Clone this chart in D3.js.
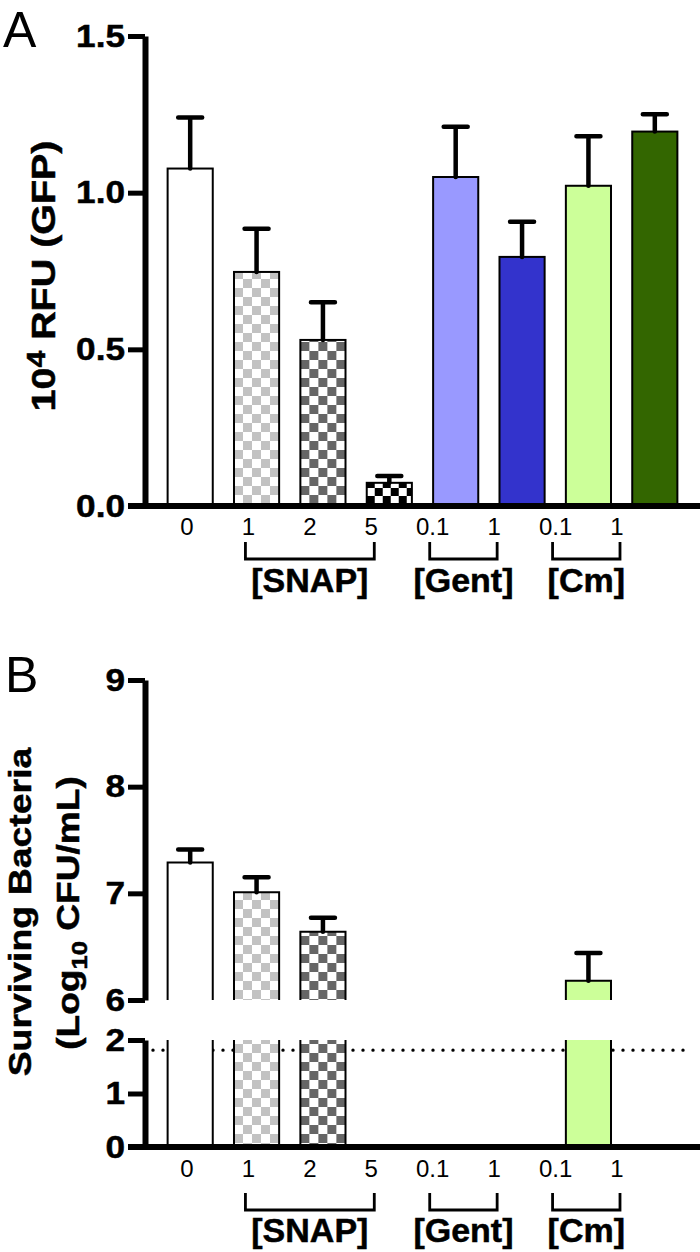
<!DOCTYPE html>
<html><head><meta charset="utf-8">
<script src="https://cdn.jsdelivr.net/npm/d3@7"></script>
<style>
html,body{margin:0;padding:0;background:#fff;}
svg{display:block;font-family:"Liberation Sans",Arial,sans-serif;}
</style></head>
<body>
<svg id="chart" width="700" height="1252"></svg>
<script>
// ---------- data ----------
const doseLabels = ["0","1","2","5","0.1","1","0.1","1"];
const groupNames = ["[SNAP]","[Gent]","[Cm]"];
const groupFirst = [1,4,6];
const groupLast  = [3,5,7];
const gfpMean = [1.077,0.747,0.530,0.074,1.050,0.795,1.022,1.195];
const gfpSem  = [0.163,0.138,0.120,0.022,0.160,0.112,0.158,0.055];
const survMean = [7.29,7.01,6.64,0,0,0,6.18,0];
const survSem  = [0.12,0.14,0.13,0,0,0,0.26,0];
const detectionLimit = 1.81;
const yTicksA = [0.0,0.5,1.0,1.5];
const yTicksBUpper = [6,7,8,9];
const yTicksBLower = [0,1,2];
const barFills = [
  {type:"solid", color:"#ffffff"},
  {type:"check", color:"#c2c2c2", size:9},
  {type:"check", color:"#666666", size:9},
  {type:"check", color:"#000000", size:8},
  {type:"solid", color:"#9999ff"},
  {type:"solid", color:"#3333cc"},
  {type:"solid", color:"#ccff99"},
  {type:"solid", color:"#336600"}
];

const svg = d3.select("#chart");
const defs = svg.append("defs");
const idx = d3.range(doseLabels.length);

const x = d3.scaleBand().domain(idx).range([157, 688]).paddingInner(0.32).paddingOuter(0.16);
const xLab = d3.scalePoint().domain(idx).range([187, 617]);
const axisX = 145;

function stretch(sel, f){
  sel.each(function(){
    const L = this.getComputedTextLength();
    this.setAttribute("textLength", L*f);
    this.setAttribute("lengthAdjust","spacingAndGlyphs");
  });
}

// build patterns once
idx.forEach(i => {
  const f = barFills[i];
  if (f.type !== "check") return;
  const s = f.size;
  const p = defs.append("pattern").attr("id", "pat"+i).attr("patternUnits","userSpaceOnUse")
    .attr("x", x(i)).attr("y", 0).attr("width", 2*s).attr("height", 2*s);
  p.append("rect").attr("width",2*s).attr("height",2*s).attr("fill","#fff");
  p.append("rect").attr("x",0).attr("y",0).attr("width",s).attr("height",s).attr("fill",f.color);
  p.append("rect").attr("x",s).attr("y",s).attr("width",s).attr("height",s).attr("fill",f.color);
});
const fillFor = i => barFills[i].type === "solid" ? barFills[i].color : "url(#pat"+i+")";

function boldText(sel){
  return sel.attr("font-weight","bold").attr("fill","#000").attr("stroke","#000").attr("stroke-width",0.5);
}

function styleYAxis(g, fs){
  g.select(".domain").attr("stroke","#000").attr("stroke-width",6);
  g.selectAll(".tick line").attr("stroke","#000").attr("stroke-width",5);
  boldText(g.selectAll(".tick text").attr("font-size",fs)
    .attr("font-family","Liberation Sans, Arial, sans-serif"));
  stretch(g.selectAll(".tick text"), 1.1);
}

function xLabels(baseY, bracketY, groupY){
  svg.append("g").selectAll("text").data(idx).join("text")
    .attr("x", i => xLab(i)).attr("y", baseY).attr("text-anchor","middle")
    .attr("font-size",24).attr("fill","#000").text(i => doseLabels[i]);
  const gb = svg.append("g");
  groupNames.forEach((name, k) => {
    const x0 = xLab(groupFirst[k]) - 3, x1 = xLab(groupLast[k]) + 3;
    gb.append("path").attr("d", `M${x0},${bracketY-17}V${bracketY}H${x1}V${bracketY-17}`)
      .attr("fill","none").attr("stroke","#000").attr("stroke-width",2.8);
    boldText(gb.append("text").attr("x",(x0+x1)/2).attr("y",groupY).attr("text-anchor","middle")
      .attr("font-size",34)).text(name);
  });
}

// ================= Panel A =================
const yA = d3.scaleLinear().domain([0,1.5]).range([506, 36]);
const gA = svg.append("g");
gA.selectAll("rect.bar").data(idx).join("rect").attr("class","bar")
  .attr("x", i => x(i)).attr("width", x.bandwidth())
  .attr("y", i => yA(gfpMean[i])).attr("height", i => yA(0) - yA(gfpMean[i]))
  .attr("fill", fillFor).attr("stroke","#000").attr("stroke-width",2);
gA.selectAll("path.err").data(idx).join("path").attr("class","err")
  .attr("d", i => {
    const cx = x(i) + x.bandwidth()/2, t = yA(gfpMean[i]+gfpSem[i]);
    return `M${cx},${yA(gfpMean[i])}V${t}M${cx-12},${t}H${cx+12}`;
  })
  .attr("stroke","#000").attr("stroke-width",4.5).attr("stroke-linecap","round").attr("fill","none");

const axA = svg.append("g").attr("transform",`translate(${axisX},0)`)
  .call(d3.axisLeft(yA).tickValues(yTicksA).tickFormat(d3.format(".1f")).tickSize(17).tickSizeOuter(0).tickPadding(3));
styleYAxis(axA, 32);
svg.append("line").attr("x1",128).attr("x2",700).attr("y1",yA(0)).attr("y2",yA(0))
  .attr("stroke","#000").attr("stroke-width",6);

xLabels(535, 559, 592);

svg.append("text").attr("x",3).attr("y",47).attr("font-size",50).attr("fill","#000").text("A");

const tA = boldText(svg.append("text").attr("transform","translate(55,276) rotate(-90)")
  .attr("text-anchor","middle").attr("font-size",34));
tA.append("tspan").text("10");
tA.append("tspan").attr("font-size",26).attr("dy",-10).text("4");
tA.append("tspan").attr("dy",10).text(" RFU (GFP)");
stretch(tA, 1.16);

// ================= Panel B =================
const yBU = d3.scaleLinear().domain([6,9]).range([1000, 680]);
const yBL = d3.scaleLinear().domain([0,2]).range([1147, 1040]);
const gB = svg.append("g");

gB.append("line").attr("x1",153).attr("x2",692).attr("y1",yBL(detectionLimit)).attr("y2",yBL(detectionLimit))
  .attr("stroke","#000").attr("stroke-width",3.4).attr("stroke-linecap","round").attr("stroke-dasharray","0,10");

const present = idx.filter(i => survMean[i] > 0);
gB.selectAll("rect.low").data(present).join("rect").attr("class","low")
  .attr("x", i => x(i)).attr("width", x.bandwidth())
  .attr("y", yBL(2)).attr("height", yBL(0) - yBL(2))
  .attr("fill", fillFor);
gB.selectAll("path.lowside").data(present).join("path").attr("class","lowside")
  .attr("d", i => `M${x(i)},${yBL(2)}V${yBL(0)}M${x(i)+x.bandwidth()},${yBL(2)}V${yBL(0)}`)
  .attr("stroke","#000").attr("stroke-width",2).attr("fill","none");
gB.selectAll("rect.up").data(present).join("rect").attr("class","up")
  .attr("x", i => x(i)).attr("width", x.bandwidth())
  .attr("y", i => yBU(survMean[i])).attr("height", i => yBU(6) - yBU(survMean[i]))
  .attr("fill", fillFor);
gB.selectAll("path.upside").data(present).join("path").attr("class","upside")
  .attr("d", i => `M${x(i)},${yBU(6)}V${yBU(survMean[i])}H${x(i)+x.bandwidth()}V${yBU(6)}`)
  .attr("stroke","#000").attr("stroke-width",2).attr("fill","none");
gB.selectAll("path.err").data(present).join("path").attr("class","err")
  .attr("d", i => {
    const cx = x(i) + x.bandwidth()/2, t = yBU(survMean[i]+survSem[i]);
    return `M${cx},${yBU(survMean[i])}V${t}M${cx-12},${t}H${cx+12}`;
  })
  .attr("stroke","#000").attr("stroke-width",4.5).attr("stroke-linecap","round").attr("fill","none");

const axBU = svg.append("g").attr("transform",`translate(${axisX},0)`)
  .call(d3.axisLeft(yBU).tickValues(yTicksBUpper).tickFormat(d3.format("d")).tickSize(17).tickSizeOuter(0).tickPadding(3));
styleYAxis(axBU, 32);
const axBL = svg.append("g").attr("transform",`translate(${axisX},0)`)
  .call(d3.axisLeft(yBL).tickValues(yTicksBLower).tickFormat(d3.format("d")).tickSize(17).tickSizeOuter(0).tickPadding(3));
styleYAxis(axBL, 32);
svg.append("line").attr("x1",128).attr("x2",700).attr("y1",yBL(0)).attr("y2",yBL(0))
  .attr("stroke","#000").attr("stroke-width",6);

xLabels(1177, 1210, 1242);

svg.append("text").attr("x",5).attr("y",692).attr("font-size",50).attr("fill","#000").text("B");

const tB1 = boldText(svg.append("text").attr("transform","translate(31,912) rotate(-90)")
  .attr("text-anchor","middle").attr("font-size",32)).text("Surviving Bacteria");
stretch(tB1, 1.17);
const tB2 = boldText(svg.append("text").attr("transform","translate(79,913) rotate(-90)")
  .attr("text-anchor","middle").attr("font-size",32));
tB2.append("tspan").text("(Log");
tB2.append("tspan").attr("font-size",22).attr("dy",8).text("10");
tB2.append("tspan").attr("dy",-8).text(" CFU/mL)");
stretch(tB2, 1.16);
</script>
</body></html>
